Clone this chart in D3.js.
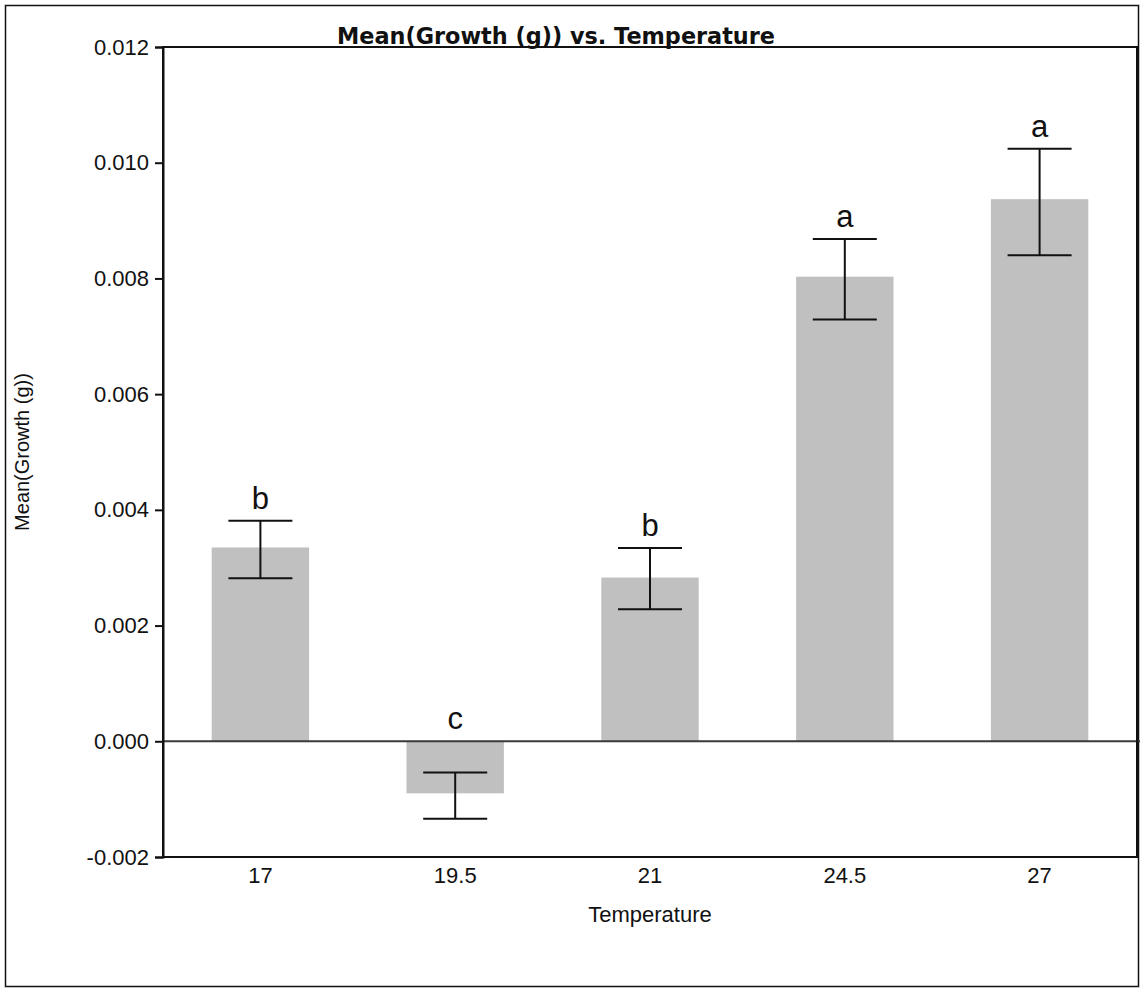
<!DOCTYPE html>
<html>
<head>
<meta charset="utf-8">
<script src="https://cdn.jsdelivr.net/npm/d3@7"></script>
<style>
  body { margin: 0; background: #fff; }
  svg { display: block; }
  .tick text { font-family: "Liberation Sans", Arial, sans-serif; fill: #111; }
</style>
</head>
<body>
<div id="chart"></div>
<script>
// Data
var temperatures = ['17', '19.5', '21', '24.5', '27'];
var meanGrowth = [0.00335, -0.00090, 0.00283, 0.00803, 0.00937];
var upperErr = [0.00381, -0.00054, 0.00334, 0.00868, 0.01024];
var lowerErr = [0.00282, -0.00134, 0.00228, 0.00729, 0.00840];
var groupLetters = ['b', 'c', 'b', 'a', 'a'];
var yTicks = [-0.002, 0.000, 0.002, 0.004, 0.006, 0.008, 0.010, 0.012];

var width = 1144, height = 992;
var plot = { left: 163, right: 1137, top: 47, bottom: 857 };

var svg = d3.select('#chart').append('svg')
  .attr('width', width)
  .attr('height', height);

// outer frame
svg.append('rect')
  .attr('x', 5.5).attr('y', 5.5)
  .attr('width', 1133).attr('height', 981)
  .attr('fill', 'none')
  .attr('stroke', '#111')
  .attr('stroke-width', 1.5);

var x = d3.scaleBand()
  .domain(temperatures)
  .range([plot.left, plot.right])
  .paddingInner(0.5)
  .paddingOuter(0.25);

var y = d3.scaleLinear()
  .domain([-0.002, 0.012])
  .range([plot.bottom, plot.top]);

var fmt = d3.format('.3f');

// bars
svg.selectAll('rect.bar')
  .data(meanGrowth)
  .enter()
  .append('rect')
  .attr('class', 'bar')
  .attr('x', function(d, i) { return x(temperatures[i]); })
  .attr('width', x.bandwidth())
  .attr('y', function(d) { return Math.min(y(d), y(0)); })
  .attr('height', function(d) { return Math.abs(y(d) - y(0)); })
  .attr('fill', '#c0c0c0');

// zero line
svg.append('line')
  .attr('x1', plot.left).attr('x2', 1140)
  .attr('y1', y(0)).attr('y2', y(0))
  .attr('stroke', '#3a3a3a')
  .attr('stroke-width', 2);

// error bars
var capHalf = 32;
var err = svg.selectAll('g.err')
  .data(temperatures)
  .enter()
  .append('g')
  .attr('class', 'err')
  .attr('stroke', '#111')
  .attr('stroke-width', 2);

err.append('line')
  .attr('x1', function(d) { return x(d) + x.bandwidth() / 2; })
  .attr('x2', function(d) { return x(d) + x.bandwidth() / 2; })
  .attr('y1', function(d, i) { return y(upperErr[i]); })
  .attr('y2', function(d, i) { return y(lowerErr[i]); });

err.append('line')
  .attr('x1', function(d) { return x(d) + x.bandwidth() / 2 - capHalf; })
  .attr('x2', function(d) { return x(d) + x.bandwidth() / 2 + capHalf; })
  .attr('y1', function(d, i) { return y(upperErr[i]); })
  .attr('y2', function(d, i) { return y(upperErr[i]); });

err.append('line')
  .attr('x1', function(d) { return x(d) + x.bandwidth() / 2 - capHalf; })
  .attr('x2', function(d) { return x(d) + x.bandwidth() / 2 + capHalf; })
  .attr('y1', function(d, i) { return y(lowerErr[i]); })
  .attr('y2', function(d, i) { return y(lowerErr[i]); });

// significance letters
svg.selectAll('text.letter')
  .data(groupLetters)
  .enter()
  .append('text')
  .attr('class', 'letter')
  .attr('x', function(d, i) { return x(temperatures[i]) + x.bandwidth() / 2; })
  .attr('y', function(d, i) { return Math.min(y(upperErr[i]), y(0)) - 12; })
  .attr('text-anchor', 'middle')
  .attr('font-family', '"Liberation Sans", Arial, sans-serif')
  .attr('font-size', 31)
  .attr('fill', '#111')
  .text(function(d) { return d; });

// plot frame
svg.append('rect')
  .attr('x', plot.left).attr('y', plot.top)
  .attr('width', plot.right - plot.left)
  .attr('height', plot.bottom - plot.top)
  .attr('fill', 'none')
  .attr('stroke', '#111')
  .attr('stroke-width', 2);

// y axis
var yAxis = svg.append('g')
  .attr('transform', 'translate(' + plot.left + ',0)')
  .call(d3.axisLeft(y)
    .tickValues(yTicks)
    .tickSize(8)
    .tickPadding(6)
    .tickFormat(function(d) { return fmt(d).replace('\u2212', '-'); }));
yAxis.select('.domain').attr('stroke', '#111').attr('stroke-width', 2);
yAxis.selectAll('.tick line').attr('stroke', '#111').attr('stroke-width', 2);
yAxis.selectAll('.tick text').attr('font-size', 22);

// x axis
var xAxis = svg.append('g')
  .attr('transform', 'translate(0,' + plot.bottom + ')')
  .call(d3.axisBottom(x).tickSize(0).tickPadding(10));
xAxis.select('.domain').remove();
xAxis.selectAll('.tick text').attr('font-size', 22);

// title
svg.append('text')
  .attr('x', 556)
  .attr('y', 44)
  .attr('text-anchor', 'middle')
  .attr('font-family', '"DejaVu Sans", Verdana, sans-serif')
  .attr('font-weight', 'bold')
  .attr('font-size', 23)
  .attr('textLength', 438)
  .attr('lengthAdjust', 'spacingAndGlyphs')
  .attr('fill', '#111')
  .text('Mean(Growth (g)) vs. Temperature');

// axis titles
svg.append('text')
  .attr('x', 650)
  .attr('y', 922)
  .attr('text-anchor', 'middle')
  .attr('font-family', '"Liberation Sans", Arial, sans-serif')
  .attr('font-size', 22)
  .attr('fill', '#111')
  .text('Temperature');

svg.append('text')
  .attr('transform', 'translate(29,452) rotate(-90)')
  .attr('text-anchor', 'middle')
  .attr('font-family', '"Liberation Sans", Arial, sans-serif')
  .attr('font-size', 20)
  .attr('fill', '#111')
  .text('Mean(Growth (g))');
</script>
</body>
</html>
